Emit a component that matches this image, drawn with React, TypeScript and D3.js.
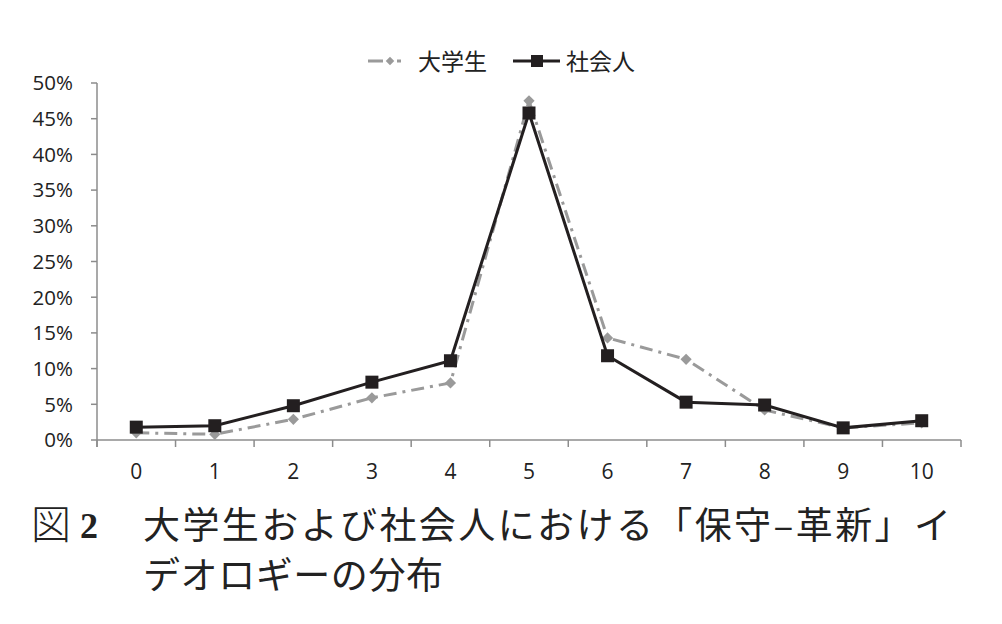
import React from "react";
import * as d3 from "d3";

const categories = ["0", "1", "2", "3", "4", "5", "6", "7", "8", "9", "10"];
const students = [0.010, 0.008, 0.029, 0.059, 0.080, 0.475, 0.143, 0.113, 0.042, 0.017, 0.024];
const workers = [0.018, 0.020, 0.048, 0.081, 0.111, 0.458, 0.118, 0.053, 0.049, 0.017, 0.027];
const yTicks = [0, 0.05, 0.1, 0.15, 0.2, 0.25, 0.3, 0.35, 0.4, 0.45, 0.5];
const seriesNames = ["大学生", "社会人"];
const captionLabel = "図";
const captionNum = "2";
const captionLine1 = "大学生および社会人における「保守‒革新」イ";
const captionLine2 = "デオロギーの分布";

export default function App() {
  const W = 1002, H = 624;
  const x = d3.scaleBand<string>().domain(categories).range([97, 961]);
  const y = d3.scaleLinear().domain([0, 0.5]).range([440, 83]);
  const cx = (c: string) => (x(c) as number) + x.bandwidth() / 2;
  const line = d3.line<number>().x((_, i) => cx(categories[i])).y((d) => y(d));
  const fmt = d3.format(".0%");
  const gray = "#9a9a9a";
  const black = "#231f20";
  const axisColor = "#8c8c8c";
  const tickFont = "'Open Sans', 'Noto Sans', sans-serif";
  const jpFont = "'Noto Sans CJK JP', sans-serif";
  const dash = "13 6 3 6";
  const boundaries = categories.map((c) => x(c) as number).concat([x.range()[1]]);
  const diamond = d3.symbol().type(d3.symbolDiamond2).size(80)();
  const legendDiamond = d3.symbol().type(d3.symbolDiamond2).size(46)();

  return (
    <svg width={W} height={H} style={{ position: "absolute", left: 0, top: 0, background: "#fff" }}>
      {/* y axis */}
      <line x1={97} x2={97} y1={y(0.5)} y2={447} stroke={axisColor} strokeWidth={1.5} />
      {yTicks.map((t) => (
        <g key={t}>
          <line x1={91} x2={97} y1={y(t)} y2={y(t)} stroke={axisColor} strokeWidth={1.5} />
          <text x={73} y={y(t)} dy="0.36em" textAnchor="end" fontFamily={tickFont} fontSize={20.5} fill="#222">
            {fmt(t)}
          </text>
        </g>
      ))}
      {/* x axis */}
      <line x1={97} x2={961} y1={y(0)} y2={y(0)} stroke={axisColor} strokeWidth={1.5} />
      {boundaries.map((b, i) => (
        <line key={i} x1={b} x2={b} y1={y(0)} y2={447} stroke={axisColor} strokeWidth={1.5} />
      ))}
      {categories.map((c) => (
        <text key={c} x={cx(c)} y={479} textAnchor="middle" fontFamily={tickFont} fontSize={21} fill="#222">
          {c}
        </text>
      ))}
      {/* students series */}
      <path d={line(students) as string} fill="none" stroke={gray} strokeWidth={3} strokeDasharray={dash} />
      {students.map((v, i) => (
        <path key={i} d={diamond as string} transform={`translate(${cx(categories[i])},${y(v)})`} fill={gray} />
      ))}
      {/* workers series */}
      <path d={line(workers) as string} fill="none" stroke={black} strokeWidth={3} strokeLinejoin="miter" />
      {workers.map((v, i) => (
        <rect key={i} x={cx(categories[i]) - 6.5} y={y(v) - 6.5} width={13} height={13} fill={black} />
      ))}
      {/* legend */}
      <g>
        <line x1={368} x2={412} y1={61} y2={61} stroke={gray} strokeWidth={3} strokeDasharray="15 14 4 20" />
        <path d={legendDiamond as string} transform="translate(390,61)" fill={gray} />
        <text x={418} y={61} dy="0.37em" fontFamily={jpFont} fontSize={23} fill="#222">{seriesNames[0]}</text>
        <line x1={513} x2={560} y1={61} y2={61} stroke={black} strokeWidth={3} />
        <rect x={531} y={55} width={12} height={12} fill={black} />
        <text x={566} y={61} dy="0.37em" fontFamily={jpFont} fontSize={23} fill="#222">{seriesNames[1]}</text>
      </g>
      {/* caption */}
      <text x={31} y={539} fontFamily={jpFont} fontSize={40} fontWeight={300} fill="#222">{captionLabel}</text>
      <text x={80} y={538} fontFamily="'Liberation Serif', serif" fontSize={36} fontWeight="bold" fill="#222">{captionNum}</text>
      <text x={143} y={539} fontFamily={jpFont} fontSize={37} fontWeight={400} fill="#222" textLength={808} lengthAdjust="spacing">{captionLine1}</text>
      <text x={143} y={589} fontFamily={jpFont} fontSize={37} fontWeight={400} fill="#222" textLength={300} lengthAdjust="spacing">{captionLine2}</text>
    </svg>
  );
}
